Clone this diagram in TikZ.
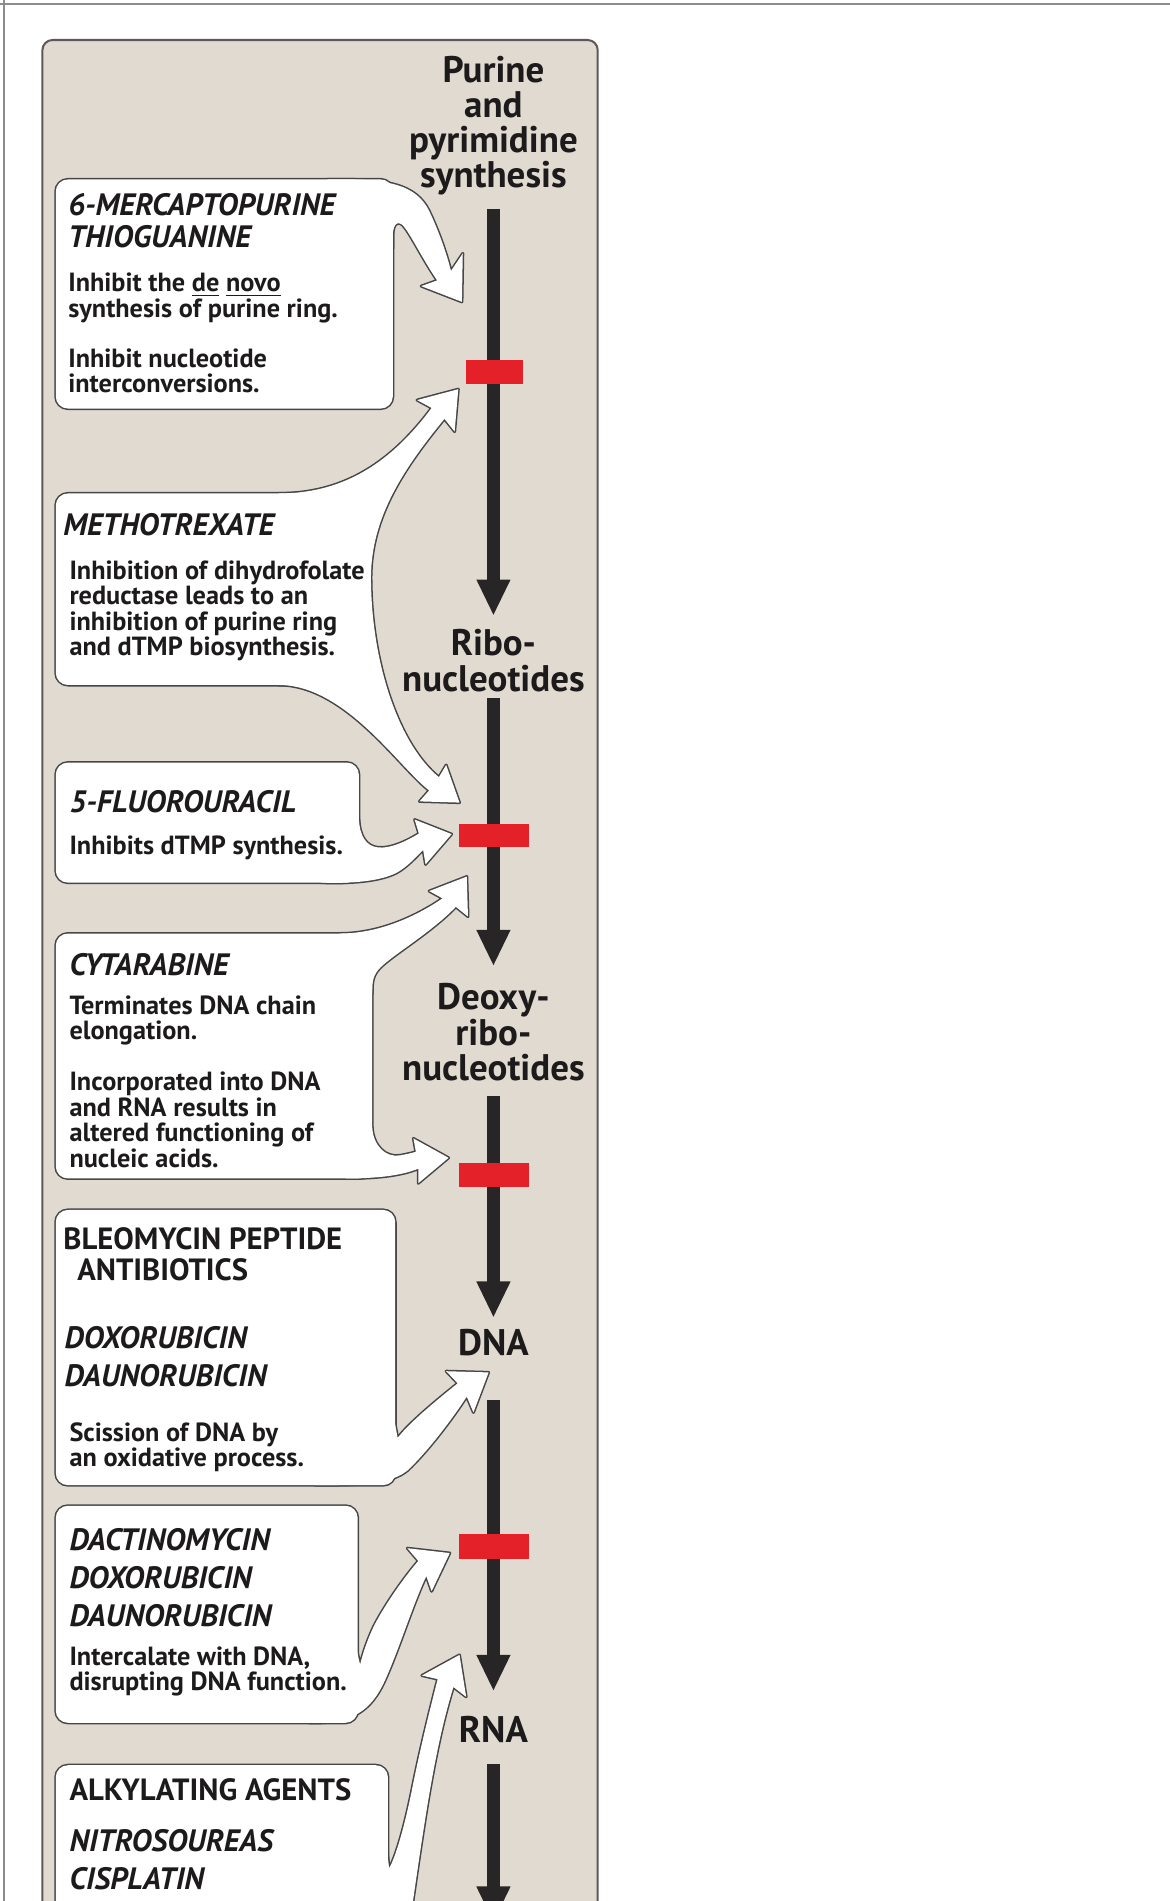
\documentclass[tikz,border=0pt]{standalone}
\usepackage{fontspec}
\setmainfont{PT Sans}
\usetikzlibrary{arrows.meta}
\definecolor{frameline}{RGB}{140,140,140}
\definecolor{panelfill}{RGB}{225,218,209}
\definecolor{panelline}{RGB}{95,88,88}
\definecolor{boxline}{RGB}{70,70,70}
\definecolor{barcol}{RGB}{40,37,38}
\definecolor{blockred}{RGB}{228,32,40}
\definecolor{textcol}{RGB}{28,26,26}
\begin{document}
\begin{tikzpicture}[x=0.6pt,y=-0.6pt,
  outl/.style={draw=boxline,line width=1.5pt,line join=round},
  wfill/.style={fill=white},
  bararrow/.style={draw=barcol,line width=6.6pt,-{Triangle[width=15.5pt,length=18pt]}},
  redblock/.style={fill=blockred},
  druglbl/.style={anchor=north west,inner sep=0pt,align=left,text=textcol,font=\bfseries\itshape\fontsize{15.3}{16.2}\selectfont},
  capslbl/.style={anchor=north west,inner sep=0pt,align=left,text=textcol,font=\bfseries\fontsize{15.2}{15.6}\selectfont},
  bodylbl/.style={anchor=north west,inner sep=0pt,align=left,text=textcol,font=\bfseries\fontsize{13}{12.6}\selectfont},
  steplbl/.style={anchor=north,inner sep=0pt,align=center,text=textcol,font=\bfseries\fontsize{18.3}{17.4}\selectfont}]
\useasboundingbox (0,0) rectangle (965,1568);
\clip (0,0) rectangle (965,1568);
% frame lines
\draw[frameline,line width=1pt] (0,3.5) -- (965,3.5);
\draw[frameline,line width=1pt] (3.5,0) -- (3.5,1568);
% panel
\filldraw[fill=panelfill,draw=panelline,line width=1pt,rounded corners=5pt] (35,1620) -- (35,33) -- (493,33) -- (493,1620);
% shapes
\def\arrA{(270,148) .. controls (320,147) and (343,152) .. (354,174) .. controls (362,191) and (368,208) .. (372,223.5) -- (381.7,209) -- (381,249) -- (347.4,236) -- (360.6,231.3) .. controls (350,216) and (340,196) .. (334,188) .. controls (330,182) and (324,182) .. (324,195) -- (324,205) -- (290,205) -- cycle}
\def\arrB{(230,407) .. controls (280,407) and (320,385) .. (356,336.5) -- (344,330) -- (378,321) -- (375,356) -- (366.6,345.5) .. controls (330,390) and (305,430) .. (306,480) .. controls (307,550) and (330,615) .. (362,641) -- (368,631) -- (379,662) -- (346,661) -- (354,652) .. controls (330,634) and (285,565) .. (230,565) -- cycle}
\def\arrC{(265,728) .. controls (295,729) and (315,726) .. (327,720) .. controls (336,715) and (343,707) .. (349,701) -- (351,713) -- (372.5,688) -- (342,676) -- (345.5,687.5) .. controls (335,694) and (322,700) .. (312,699) .. controls (302,698) and (297,690) .. (296,676) -- (280,700) -- cycle}
\def\arrDa{(280,770) .. controls (310,770) and (340,758) .. (365,741) -- (354,735) -- (385,723) -- (386,756) -- (376,748) .. controls (355,770) and (320,790) .. (312,800) .. controls (307,806) and (307,812) .. (307,820) -- (290,800) -- cycle}
\def\arrDb{(307,930) .. controls (308,945) and (318,955) .. (330,953) .. controls (335,952) and (340,951) .. (343,950) -- (341,939) -- (370,955) -- (345,976) -- (345,964) .. controls (330,970) and (310,972) .. (285,972) -- (290,950) -- cycle}
\def\arrE{(260,1225) .. controls (300,1225) and (322,1224) .. (336,1213) .. controls (352,1198) and (372,1172) .. (385,1152) -- (390.5,1165) -- (403,1132) -- (368,1131) -- (377.5,1141) .. controls (360,1155) and (337,1174) .. (328,1186) -- (325,1170) -- (300,1200) -- cycle}
\def\arrF{(255,1421) .. controls (290,1422) and (306,1412) .. (318,1385) .. controls (330,1358) and (340,1325) .. (351.6,1300) -- (356,1312.5) -- (371,1281) -- (336,1277) -- (345,1287.5) .. controls (330,1305) and (315,1328) .. (308,1342) .. controls (302,1355) and (299,1365) .. (297,1373) -- (294,1360) -- (270,1390) -- cycle}
\def\arrG{(333,1620) .. controls (348,1520) and (356,1450) .. (374,1391.5) -- (384.5,1399.6) -- (379,1365) -- (348,1382) -- (361,1385) .. controls (352,1420) and (345,1450) .. (340,1475) .. controls (334,1505) and (327,1530) .. (321,1541) -- (319,1525) -- (300,1610) -- cycle}
% outlines (drawn thick, then covered by fills so only the union outline remains)
\draw[outl,rounded corners=6pt] (46,148) rectangle (324,337);
\draw[outl,rounded corners=6pt] (46,407) rectangle (300,565);
\draw[outl,rounded corners=6pt] (46,629) rectangle (296,728);
\draw[outl,rounded corners=6pt] (46,770) rectangle (307,972);
\draw[outl,rounded corners=6pt] (46,998) rectangle (326,1225);
\draw[outl,rounded corners=6pt] (46,1242) rectangle (295,1421);
\draw[outl,rounded corners=6pt] (46,1456) rectangle (320,1620);
\draw[outl] \arrA; \draw[outl] \arrB; \draw[outl] \arrC; \draw[outl] \arrDa;
\draw[outl] \arrDb; \draw[outl] \arrE; \draw[outl] \arrF; \draw[outl] \arrG;
% fills
\fill[wfill,rounded corners=6pt] (46,148) rectangle (324,337);
\fill[wfill,rounded corners=6pt] (46,407) rectangle (300,565);
\fill[wfill,rounded corners=6pt] (46,629) rectangle (296,728);
\fill[wfill,rounded corners=6pt] (46,770) rectangle (307,972);
\fill[wfill,rounded corners=6pt] (46,998) rectangle (326,1225);
\fill[wfill,rounded corners=6pt] (46,1242) rectangle (295,1421);
\fill[wfill,rounded corners=6pt] (46,1456) rectangle (320,1620);
\fill[wfill] \arrA; \fill[wfill] \arrB; \fill[wfill] \arrC; \fill[wfill] \arrDa;
\fill[wfill] \arrDb; \fill[wfill] \arrE; \fill[wfill] \arrF; \fill[wfill] \arrG;
% pathway labels
\node[steplbl] (purine) at (407,46) {Purine\\and\\pyrimidine\\synthesis};
\node[steplbl] (ribo) at (407,519) {Ribo-\\nucleotides};
\node[steplbl] (deoxy) at (407,811) {Deoxy-\\ribo-\\nucleotides};
\node[steplbl] (dna) at (407,1096) {DNA};
\node[steplbl] (rna) at (407,1415) {RNA};
% pathway arrows
\coordinate (s1a) at (407,172); \coordinate (s1b) at (407,508);
\coordinate (s2a) at (407,576); \coordinate (s2b) at (407,797);
\coordinate (s3a) at (407,904); \coordinate (s3b) at (407,1087);
\coordinate (s4a) at (407,1155); \coordinate (s4b) at (407,1395);
\coordinate (s5a) at (407,1455); \coordinate (s5b) at (407,1586);
\draw[bararrow] (s1a) -- (s1b);
\draw[bararrow] (s2a) -- (s2b);
\draw[bararrow] (s3a) -- (s3b);
\draw[bararrow] (s4a) -- (s4b);
\draw[bararrow] (s5a) -- (s5b);
% red blocks
\fill[redblock] (384,297) rectangle (431,317);
\fill[redblock] (379,680) rectangle (436,699);
\fill[redblock] (379,959) rectangle (436,979);
\fill[redblock] (379,1265) rectangle (436,1286);
% box A
\node[druglbl] (a1) at (56,159) {6-MERCAPTOPURINE\\THIOGUANINE};
\node[bodylbl] (a2) at (56,225) {Inhibit the \underline{de} \underline{novo}\\synthesis of purine ring.};
\node[bodylbl] (a3) at (56,287) {Inhibit nucleotide\\interconversions.};
% box B
\node[druglbl] (b1) at (52,423) {METHOTREXATE};
\node[bodylbl] (b2) at (57,462) {Inhibition of dihydrofolate\\reductase leads to an\\inhibition of purine ring\\and dTMP biosynthesis.};
% box C
\node[druglbl] (c1) at (57,652) {5-FLUOROURACIL};
\node[bodylbl] (c2) at (57,689) {Inhibits dTMP synthesis.};
% box D
\node[druglbl] (d1) at (57,786) {CYTARABINE};
\node[bodylbl] (d2) at (57,821) {Terminates DNA chain\\elongation.};
\node[bodylbl] (d3) at (57,884) {Incorporated into DNA\\and RNA results in\\altered functioning of\\nucleic acids.};
% box E
\node[capslbl] (e1) at (52,1012) {BLEOMYCIN PEPTIDE\\\hspace*{0.45em}ANTIBIOTICS};
\node[druglbl] (e2) at (53,1094) {DOXORUBICIN};
\node[druglbl] (e3) at (53,1125) {DAUNORUBICIN};
\node[bodylbl] (e4) at (57,1173) {Scission of DNA by\\an oxidative process.};
% box F
\node[druglbl] (f1) at (57,1260) {DACTINOMYCIN};
\node[druglbl] (f2) at (57,1292) {DOXORUBICIN};
\node[druglbl] (f3) at (57,1323) {DAUNORUBICIN};
\node[bodylbl] (f4) at (57,1358) {Intercalate with DNA,\\disrupting DNA function.};
% box G
\node[capslbl] (g1) at (57,1467) {ALKYLATING AGENTS};
\node[druglbl] (g2) at (57,1509) {NITROSOUREAS};
\node[druglbl] (g3) at (57,1540) {CISPLATIN};
\end{tikzpicture}
\end{document}
